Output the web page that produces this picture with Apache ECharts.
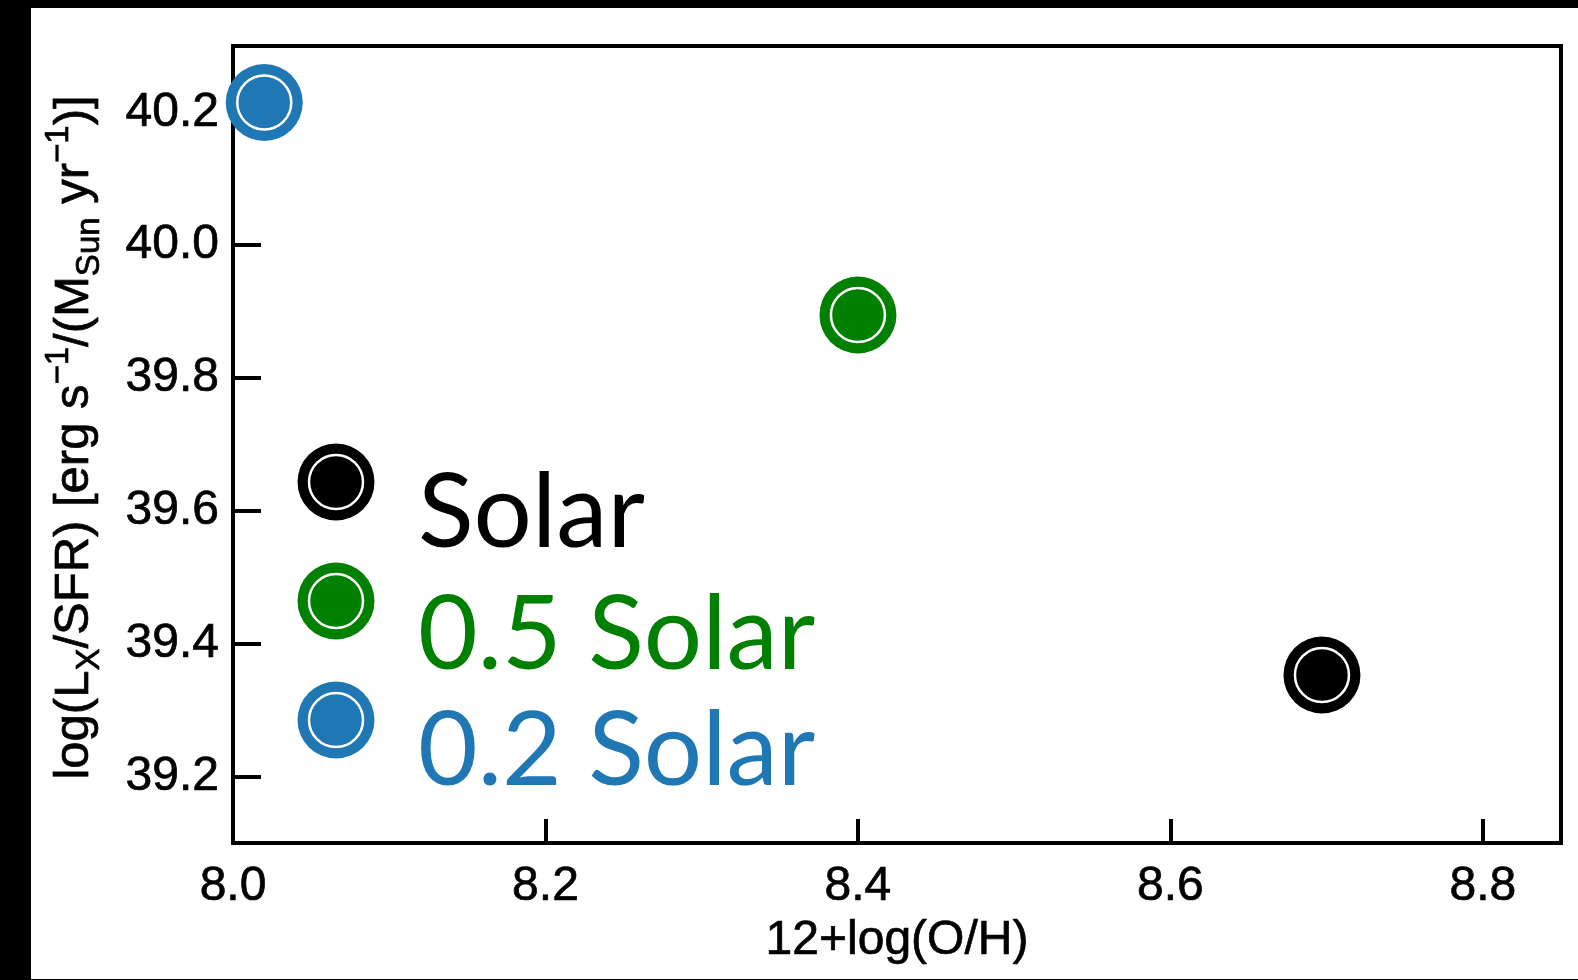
<!DOCTYPE html>
<html>
<head>
<meta charset="utf-8">
<title>Lx/SFR vs metallicity</title>
<script src="https://cdn.jsdelivr.net/npm/echarts@6/dist/echarts.min.js"></script>
<style>
  html, body { margin: 0; padding: 0; background: #ffffff; }
  #chart { width: 1578px; height: 980px; }
</style>
</head>
<body>
<div id="chart"></div>
<script>
// Tick positions on each axis
const xTicks = [8.0, 8.2, 8.4, 8.6, 8.8];
const yTicks = [39.2, 39.4, 39.6, 39.8, 40.0, 40.2];

// Model runs: name, colour, metallicity 12+log(O/H), log(Lx/SFR)
const runNames = ['Solar', '0.5 Solar', '0.2 Solar'];
const runColors = ['#000000', '#008000', '#1f77b4'];
const metallicity = [8.697, 8.40, 8.02];
const lxPerSfr = [39.353, 39.895, 40.215];

const chart = echarts.init(document.getElementById('chart'), null, { renderer: 'canvas' });

const tickFont = 'Liberation Sans, Arial, Helvetica, sans-serif';

// Each point is a filled disc with a thin white ring inside it:
// an outer disc and an inner disc with a white border on top.
const series = [];
runNames.forEach(function (name, i) {
  const point = [[metallicity[i], lxPerSfr[i]]];
  series.push({
    type: 'scatter', name: name, data: point, clip: false,
    symbol: 'circle', symbolSize: 77, z: 3,
    itemStyle: { color: runColors[i], opacity: 1 },
    emphasis: { disabled: true }, silent: true
  });
  series.push({
    type: 'scatter', name: name, data: point, clip: false,
    symbol: 'circle', symbolSize: 54, z: 4,
    itemStyle: { color: runColors[i], borderColor: '#ffffff', borderWidth: 2.5, opacity: 1 },
    emphasis: { disabled: true }, silent: true
  });
});

// Key: ringed markers on the left, large labels beside them
const keyMarkerX = 336;
const keyMarkerY = [482, 601, 720];
const keyTextY = [514, 636, 752];
const graphic = [
  { type: 'rect', shape: { x: 0, y: 0, width: 1578, height: 8 }, style: { fill: '#000' }, z: 100 },
  { type: 'rect', shape: { x: 0, y: 0, width: 31, height: 980 }, style: { fill: '#000' }, z: 100 },
  { type: 'rect', shape: { x: 0, y: 979, width: 1578, height: 1 }, style: { fill: '#000' }, z: 100 }
];
runNames.forEach(function (name, i) {
  graphic.push({
    type: 'circle', shape: { cx: keyMarkerX, cy: keyMarkerY[i], r: 38.5 },
    style: { fill: runColors[i] }, z: 10
  });
  graphic.push({
    type: 'circle', shape: { cx: keyMarkerX, cy: keyMarkerY[i], r: 27 },
    style: { fill: runColors[i], stroke: '#ffffff', lineWidth: 2.5 }, z: 11
  });
  graphic.push({
    type: 'text', x: 418, y: keyTextY[i], z: 12,
    style: {
      text: name, fill: runColors[i],
      fontFamily: 'Lato, "Open Sans", sans-serif', fontSize: 103,
      align: 'left', verticalAlign: 'middle'
    }
  });
});

// Slight outline thickens the axis text a little
const axisText = { fontFamily: tickFont, color: '#000', textBorderColor: '#000', textBorderWidth: 0.7 };

const option = {
  animation: false,
  backgroundColor: '#ffffff',
  grid: {
    left: 233, top: 46, right: 17, bottom: 137,
    show: true, borderColor: '#000', borderWidth: 4, backgroundColor: 'transparent'
  },
  xAxis: {
    type: 'value', min: 8.0, max: 8.85,
    name: '12+log(O/H)', nameLocation: 'middle', nameGap: 67,
    nameTextStyle: Object.assign({ fontSize: 48, lineHeight: 48 }, axisText),
    axisLine: { show: true, onZero: false, lineStyle: { color: '#000', width: 4 } },
    axisTick: { show: true, inside: true, length: 24, customValues: xTicks, lineStyle: { color: '#000', width: 4 } },
    axisLabel: Object.assign({
      customValues: xTicks, margin: 20, fontSize: 48, lineHeight: 48,
      formatter: function (v) { return v.toFixed(1); }
    }, axisText),
    splitLine: { show: false }
  },
  yAxis: {
    type: 'value', min: 39.1, max: 40.3,
    name: 'log(L{sub|X}/SFR) [erg s{sup|−1}/(M{sub|Sun} yr{sup|−1})]',
    nameLocation: 'middle', nameRotate: 90, nameGap: 127,
    nameTextStyle: Object.assign({
      fontSize: 49, lineHeight: 64, padding: [0, 0, 0, 14],
      rich: {
        sub: Object.assign({ fontSize: 33, lineHeight: 40, verticalAlign: 'bottom' }, axisText),
        sup: Object.assign({ fontSize: 33, lineHeight: 24, verticalAlign: 'top' }, axisText)
      }
    }, axisText),
    axisLine: { show: true, onZero: false, lineStyle: { color: '#000', width: 4 } },
    axisTick: { show: true, inside: true, length: 28, customValues: yTicks, lineStyle: { color: '#000', width: 4 } },
    axisLabel: Object.assign({
      customValues: yTicks, margin: 14, fontSize: 48,
      formatter: function (v) { return v.toFixed(1); }
    }, axisText),
    splitLine: { show: false }
  },
  graphic: graphic,
  series: series
};

chart.setOption(option);
</script>
</body>
</html>
